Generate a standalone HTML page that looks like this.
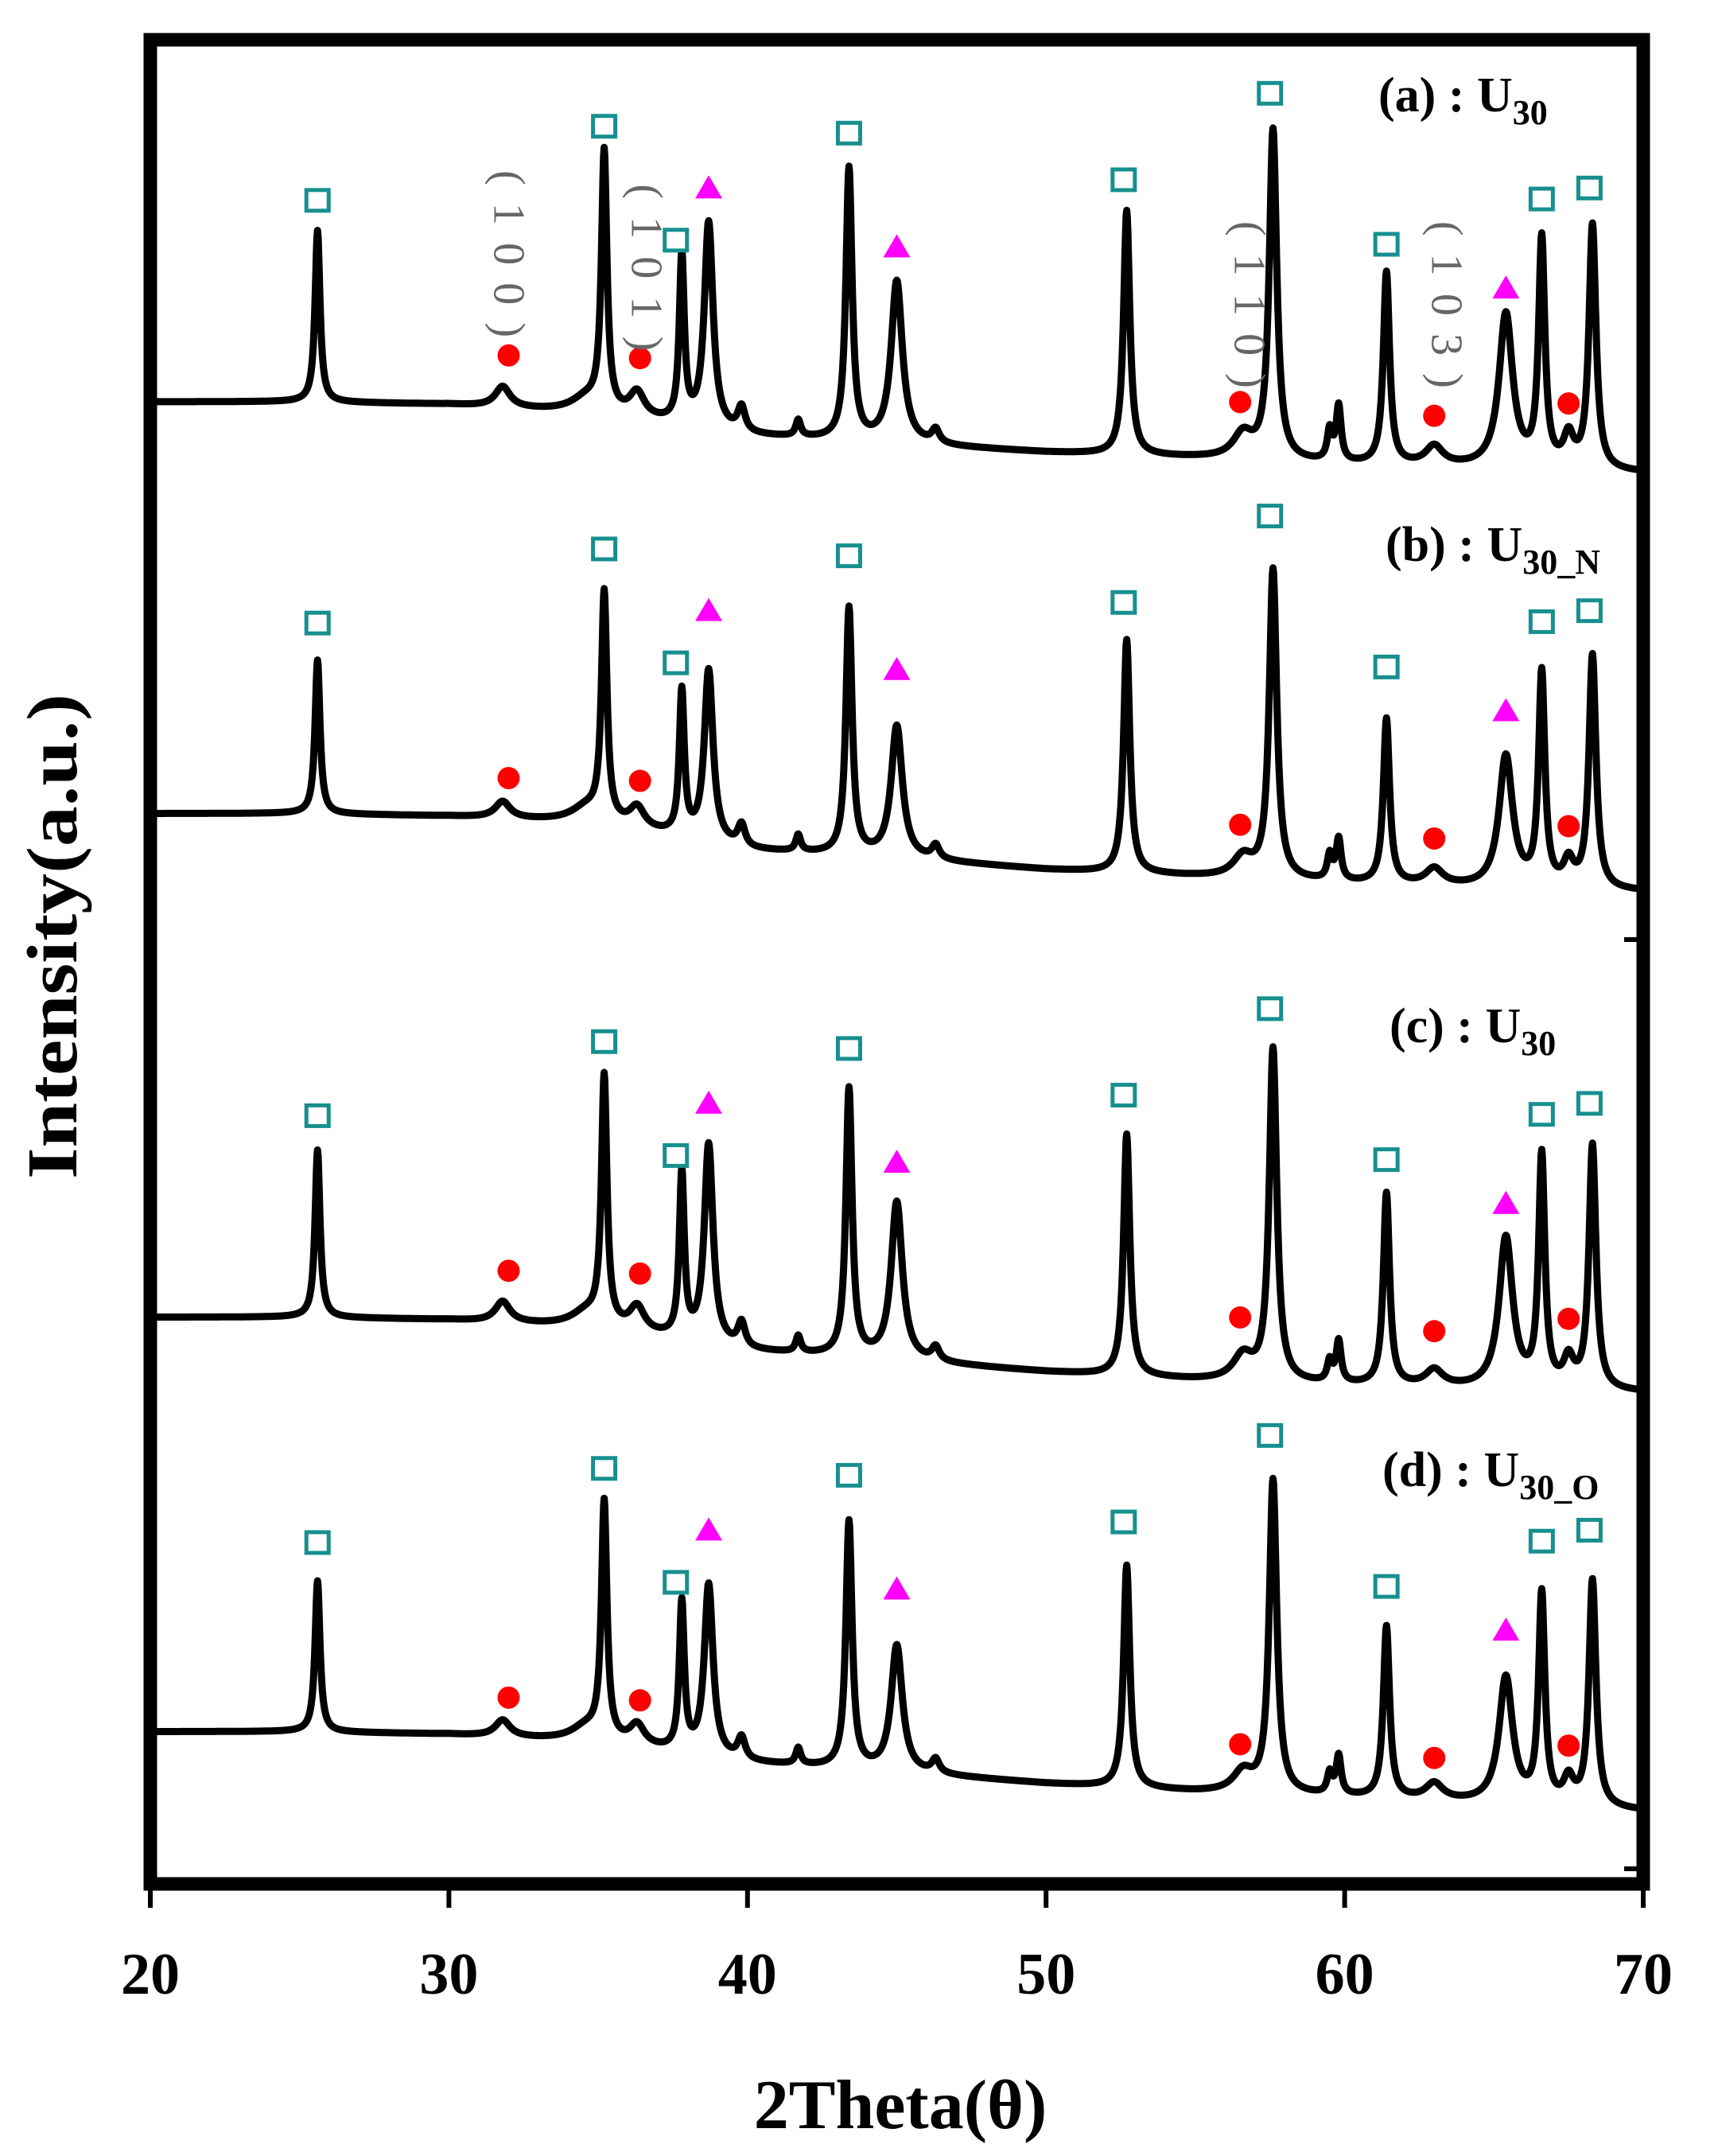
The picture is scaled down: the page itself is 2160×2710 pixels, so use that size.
<!DOCTYPE html>
<html><head><meta charset="utf-8"><style>
html,body{margin:0;padding:0;background:#fff;}
svg{display:block;}
</style></head><body>
<svg id="chart" width="2160" height="2710" viewBox="0 0 2160 2710" xmlns="http://www.w3.org/2000/svg" font-family="Liberation Serif, serif">
<rect x="0" y="0" width="2160" height="2710" fill="#fff"/>
<g id="traces"></g>
<g id="markers"></g>
<g id="miller"></g>
<rect x="189" y="50" width="1877" height="2318" fill="none" stroke="#000" stroke-width="17"/>
<rect x="2042" y="1178" width="20" height="6" fill="#000"/>
<rect x="2042" y="2346" width="20" height="6" fill="#000"/>
<g id="ticks"></g>
<text x="1132" y="2675" font-size="88" font-weight="bold" text-anchor="middle">2Theta(θ)</text>
<text transform="translate(96,1177) rotate(-90)" font-size="90" font-weight="bold" text-anchor="middle" textLength="610" lengthAdjust="spacingAndGlyphs">Intensity(a.u.)</text>
<g font-weight="bold" font-size="62">
<text x="1733" y="140">(a) : U<tspan font-size="44" dy="16">30</tspan></text>
<text x="1742" y="705">(b) : U<tspan font-size="44" dy="16">30_N</tspan></text>
<text x="1747" y="1310">(c) : U<tspan font-size="44" dy="16">30</tspan></text>
<text x="1738" y="1868">(d) : U<tspan font-size="44" dy="16">30_O</tspan></text>
</g>
</svg>
<script>
// x-axis
const xTicks = [20, 30, 40, 50, 60, 70];
// baseline anchor angles
const baseTheta = [20, 25, 30, 35, 40, 45, 50, 55, 60, 65, 70];
// intensities (display units from bottom)
const baseA = [1077, 1077, 1075, 1068, 1052, 1046, 1040, 1036, 1031, 1028, 1025];
const baseB = [777, 777, 775, 770, 750, 744, 736, 731, 726, 722, 720];
const baseC = [410, 410, 408, 402, 385, 378, 370, 364, 360, 357, 355];
const baseD = [108, 108, 106, 100, 85, 78, 70, 64, 60, 55, 50];
// peak positions (2θ) and widths (FWHM deg)
const peakPos = [25.6, 31.8, 34.6, 35.2, 36.3, 37.8, 38.7, 39.8, 41.7, 43.4, 45.0, 46.3, 52.7, 56.6, 57.6, 59.5, 59.8, 61.4, 63.0, 65.4, 66.6, 67.5, 68.3];
const peakWidth = [0.2, 0.6, 1.2, 0.22, 0.6, 0.2, 0.35, 0.3, 0.2, 0.25, 0.45, 0.3, 0.25, 0.8, 0.3, 0.2, 0.2, 0.25, 0.7, 0.55, 0.25, 0.4, 0.28];
const heightA = [125, 15, 10, 188, 18, 122, 150, 18, 12, 198, 118, 10, 178, 18, 240, 22, 40, 140, 14, 112, 165, 22, 178];
const heightB = [112, 12, 10, 165, 15, 105, 125, 16, 12, 180, 96, 10, 170, 15, 225, 18, 30, 120, 12, 96, 155, 18, 170];
const heightC = [122, 15, 10, 180, 18, 120, 145, 18, 12, 195, 115, 10, 176, 18, 242, 15, 30, 140, 12, 110, 168, 20, 178];
const heightD = [110, 12, 10, 172, 15, 108, 125, 16, 12, 180, 92, 10, 162, 15, 228, 15, 28, 125, 12, 92, 152, 18, 165];
// markers (series a, display y from top), offset per series
const sqTheta = [25.6, 35.2, 37.6, 43.4, 52.6, 57.5, 61.4, 66.6, 68.2];
const sqY = [146, 92, 175, 97, 131, 68, 178, 145, 137];
const triTheta = [38.7, 45.0, 65.4];
const triY = [137, 180, 210];
const cirTheta = [32.0, 36.4, 56.5, 63.0, 67.5];
const cirY = [259, 261, 293, 303, 294];
const seriesOffset = [0, 308, 667, 978];
const millerText = ["( 1 0 0 )", "( 1 0 1 )", "( 1 1 0 )", "( 1 0 3 )"];
const millerTheta = [31.9, 36.5, 56.7, 63.3];
const millerY = [185, 195, 222, 222];

const NS = "http://www.w3.org/2000/svg";
const X = t => 189 + (t - 20) * (2066 - 189) / 50;
const YV = v => 2363 - v * 1.725;     // intensity -> px
const YD = d => d * 1.725;            // display y -> px

function interp(xs, ys, x) {
  for (let i = 0; i < xs.length - 1; i++) {
    if (x <= xs[i + 1]) { const f = (x - xs[i]) / (xs[i + 1] - xs[i]); return ys[i] + f * (ys[i + 1] - ys[i]); }
  }
  return ys[ys.length - 1];
}
const traces = document.getElementById('traces');
const bases = [baseA, baseB, baseC, baseD];
const heights = [heightA, heightB, heightC, heightD];
const names = ['trace-a', 'trace-b', 'trace-c', 'trace-d'];
for (let s = 0; s < 4; s++) {
  let d = "";
  for (let t = 20; t <= 70.0001; t += 0.02) {
    let v = interp(baseTheta, bases[s], t);
    for (let k = 0; k < peakPos.length; k++) {
      const u = (t - peakPos[k]) / (peakWidth[k] / 2);
      v += heights[s][k] / (1 + u * u);
    }
    d += (d ? "L" : "M") + X(t).toFixed(1) + "," + YV(v).toFixed(1);
  }
  const p = document.createElementNS(NS, 'path');
  p.setAttribute('d', d);
  p.setAttribute('fill', 'none');
  p.setAttribute('stroke', '#000');
  p.setAttribute('stroke-width', '9');
  p.setAttribute('stroke-linejoin', 'round');
  
  
  traces.appendChild(p);
}
const mk = document.getElementById('markers');
for (let s = 0; s < 4; s++) {
  sqTheta.forEach((t, i) => {
    const r = document.createElementNS(NS, 'rect');
    const cx = X(t), cy = YD(sqY[i] + seriesOffset[s]);
    r.setAttribute('x', cx - 14); r.setAttribute('y', cy - 13);
    r.setAttribute('width', 28); r.setAttribute('height', 26);
    r.setAttribute('fill', '#fff'); r.setAttribute('stroke', '#178f8f'); r.setAttribute('stroke-width', '5');
    
    
    mk.appendChild(r);
  });
  triTheta.forEach((t, i) => {
    const p = document.createElementNS(NS, 'polygon');
    const cx = X(t), cy = YD(triY[i] + seriesOffset[s]);
    p.setAttribute('points', `${cx},${cy - 16} ${cx - 17},${cy + 13} ${cx + 17},${cy + 13}`);
    p.setAttribute('fill', '#ff00ff');
    
    
    mk.appendChild(p);
  });
  cirTheta.forEach((t, i) => {
    const c = document.createElementNS(NS, 'circle');
    c.setAttribute('cx', X(t)); c.setAttribute('cy', YD(cirY[i] + seriesOffset[s]));
    c.setAttribute('r', 14); c.setAttribute('fill', '#ff0000');
    
    
    mk.appendChild(c);
  });
}
const mg = document.getElementById('miller');
millerText.forEach((s, i) => {
  const t = document.createElementNS(NS, 'text');
  t.setAttribute('transform', `translate(${X(millerTheta[i]) - 14},${YD(millerY[i])}) rotate(90)`);
  t.setAttribute('font-size', '56');
  t.setAttribute('fill', '#666');
  t.setAttribute('text-anchor', 'middle');
  t.setAttribute('textLength', '210');
  t.textContent = s;
  
  
  mg.appendChild(t);
});
const tg = document.getElementById('ticks');
xTicks.forEach(v => {
  const l = document.createElementNS(NS, 'line');
  l.setAttribute('x1', X(v)); l.setAttribute('x2', X(v));
  l.setAttribute('y1', 2368); l.setAttribute('y2', 2398);
  l.setAttribute('stroke', '#000'); l.setAttribute('stroke-width', '6');
  
  
  tg.appendChild(l);
  const t = document.createElementNS(NS, 'text');
  t.setAttribute('x', X(v)); t.setAttribute('y', 2506);
  t.setAttribute('font-size', '74'); t.setAttribute('font-weight', 'bold');
  t.setAttribute('text-anchor', 'middle');
  t.textContent = v;
  
  
  tg.appendChild(t);
});
</script>
</body></html>
